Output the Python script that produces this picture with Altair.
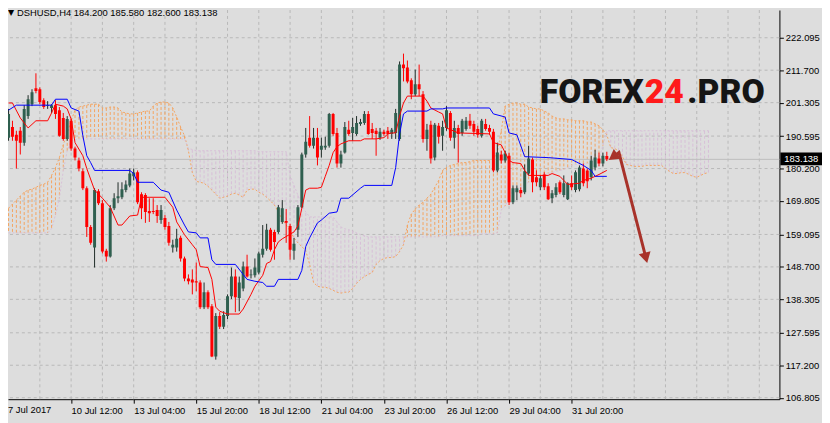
import altair as alt
import pandas as pd

# ---------------- data ----------------
opens = [190.1,193.5,191.0,192.3,188.5,197.0,200.8,205.9,205.6,202.1,
200.2,199.6,200.5,198.9,196.4,189.7,195.5,186.6,182.8,179.3,
173.9,161.5,154.9,172.9,169.1,153.9,152.0,167.5,170.7,171.0,
173.3,174.8,177.7,179.0,172.0,171.7,166.6,166.6,166.9,163.7,
164.4,161.8,154.9,154.9,158.0,151.4,145.0,144.7,144.1,143.7,
135.8,140.6,136.1,120.0,133.0,129.5,133.0,139.3,145.6,138.7,
141.8,148.8,146.0,146.0,146.9,152.6,154.5,160.6,159.9,159.9,
163.1,163.4,161.8,153.9,160.6,167.8,184.7,190.1,187.5,190.1,
186.2,186.9,187.5,197.7,191.6,181.8,185.3,192.6,191.6,191.3,
194.5,194.8,197.7,192.9,192.3,190.1,192.0,192.3,191.3,191.6,
189.7,213.5,212.6,208.5,204.0,207.2,204.0,189.7,194.2,183.7,
193.9,190.7,193.2,198.0,190.1,193.2,191.6,192.9,195.5,194.5,
192.9,190.7,194.5,193.2,192.0,179.6,184.7,182.8,184.3,169.4,
172.6,173.3,172.6,178.6,183.1,177.4,174.2,178.3,174.5,170.7,
171.7,175.8,171.7,170.4,175.5,173.3,173.6,180.2,179.6,177.4,
180.5,183.4,181.8,184.2]
highs = [199.3,195.5,192.3,193.5,200.5,203.7,205.6,210.7,206.2,202.7,
201.8,200.8,202.1,199.9,198.0,197.0,196.1,187.2,183.7,180.2,
174.5,162.1,173.9,173.6,170.1,154.5,168.5,172.3,175.8,175.8,
176.4,180.2,180.2,179.6,172.6,172.3,170.7,170.7,168.5,168.5,
165.3,163.1,157.4,160.9,158.7,152.0,146.3,147.9,150.1,144.4,
143.7,141.2,136.8,133.9,134.2,134.5,139.9,148.5,147.9,145.6,
150.4,152.6,147.9,151.4,153.6,162.1,162.5,161.2,160.6,168.5,
170.1,167.2,162.5,158.0,168.5,185.3,193.2,197.0,193.2,193.2,
190.1,190.4,198.0,198.0,193.2,185.9,195.1,195.5,196.4,197.0,
196.1,198.6,198.6,194.8,193.2,193.2,192.6,193.5,193.2,199.3,
214.5,217.0,214.8,209.1,211.9,213.5,205.0,194.5,195.5,194.8,
194.8,195.5,200.2,198.6,195.5,194.2,196.1,196.7,197.7,195.5,
193.9,196.1,196.1,194.2,192.9,188.5,185.9,185.9,185.3,174.8,
174.8,174.2,181.5,187.5,183.7,179.6,178.0,179.0,175.5,173.3,
175.5,176.4,178.0,175.8,178.0,179.6,181.2,181.8,180.2,184.3,
186.2,185.3,185.3,185.58]
lows = [189.1,189.1,180.2,184.7,187.5,196.1,200.2,204.3,200.8,199.3,
199.3,198.0,196.1,190.4,189.1,189.1,185.9,182.8,179.3,173.3,
158.3,155.8,148.5,168.5,153.0,150.4,151.7,166.9,169.1,170.4,
172.6,174.2,176.4,168.8,164.0,162.8,163.1,165.6,162.8,162.5,
160.6,155.5,153.3,153.6,150.4,144.1,143.1,139.9,140.9,135.2,
135.2,135.2,119.8,119.0,128.8,128.8,132.0,138.4,134.2,134.5,
140.9,145.3,145.0,145.3,146.3,151.7,153.9,153.6,151.0,159.3,
162.5,156.4,151.0,151.0,158.3,167.5,183.7,186.9,186.6,181.2,
183.7,186.2,186.9,190.7,180.5,180.5,185.0,190.7,189.1,190.7,
193.9,194.2,191.0,189.7,184.3,189.4,190.7,189.7,189.7,189.7,
189.1,208.1,207.5,202.4,203.4,203.4,188.5,185.9,181.8,182.8,
188.2,185.9,192.3,189.1,186.6,182.1,190.7,192.3,192.9,190.7,
190.1,190.1,192.3,191.0,179.0,179.0,181.8,182.1,168.5,168.8,
170.1,171.0,172.0,178.0,172.6,174.5,173.3,173.3,170.1,169.1,
171.0,172.0,171.0,170.1,173.3,172.6,172.9,174.5,173.9,176.4,
179.6,180.9,180.9,182.6]
closes = [197.7,190.4,189.1,188.5,199.3,202.4,204.6,205.0,201.5,199.9,
200.5,200.5,197.7,190.7,189.7,196.1,186.6,183.7,180.2,173.9,
161.5,156.4,173.3,169.1,153.6,152.0,167.5,170.7,171.3,173.6,
175.1,178.6,178.9,169.4,167.5,166.3,165.9,166.3,165.0,166.9,
161.5,156.4,155.8,157.7,151.4,145.0,144.1,143.7,143.7,135.8,
140.6,135.8,120.0,133.0,129.5,133.3,139.3,145.6,139.0,143.7,
148.8,145.6,146.3,148.5,153.0,154.5,160.6,154.2,156.7,167.8,
167.5,162.8,154.2,156.1,167.8,184.7,188.8,187.5,190.1,183.7,
187.5,187.5,197.7,191.3,181.8,184.7,193.5,191.3,193.5,194.8,
195.1,197.7,191.3,191.6,191.3,192.0,191.3,191.3,192.6,198.0,
213.5,212.3,208.1,204.0,207.2,205.6,189.7,192.6,183.4,194.2,
190.4,193.5,198.9,190.1,193.2,191.3,195.5,195.5,193.9,192.0,
191.0,195.5,192.9,192.0,179.6,185.3,182.8,185.0,169.4,173.9,
173.9,172.3,179.3,183.4,175.8,175.8,177.1,174.2,170.4,172.3,
174.2,172.6,175.5,175.5,174.2,179.0,180.5,175.5,176.1,182.8,
183.7,181.8,184.3,183.138]

# Tenkan-sen (red) vertices: bar index, price
tenkan_bar = [0,1,3,5,7,10,11,12,14,15,16,17,19,20,22,24,26,28,29,31,
33,34,40,42,43,45,47,48,49,51,52,53,54,56,59,60,62,63,65,66,
67,68,69,70,73,74,75,76,77,79,80,81,82,83,84,85,87,90,91,94,
96,97,98,99,100,101,102,106,107,108,110,111,112,115,123,124,126,127,128,129,
131,132,133,138,139,141,142,143,146,147,149,151,153]
tenkan_val = [201.2,201.2,196.4,193.2,195.5,195.5,198.0,200.8,200.2,199.3,
196.1,188.5,184.3,180.2,173.3,170.7,167.8,162.1,162.1,165.0,
165.3,171.0,171.0,167.8,163.1,159.0,155.8,154.2,148.8,148.5,
144.7,135.8,134.5,133.6,133.6,135.2,139.9,142.5,146.0,149.8,
150.4,154.2,156.7,157.7,159.9,161.8,167.5,173.3,173.9,173.9,
174.2,177.7,181.2,185.3,187.2,188.1,189.1,189.1,189.7,189.7,
190.1,191.3,191.6,191.6,197.0,201.2,203.4,203.4,201.8,199.6,
198.3,197.7,193.2,191.6,191.3,188.5,187.8,185.3,182.8,182.1,
181.8,179.6,178.0,178.0,178.6,177.7,176.4,175.1,175.5,176.4,
177.1,178.3,179.6]

# Kijun-sen (blue) vertices: bar index, price
kijun_bar = [0,2,11,12,15,16,18,19,20,21,22,31,32,33,37,39,41,43,45,46,
48,49,51,52,53,58,60,61,63,65,66,68,69,74,75,76,77,79,80,82,
84,85,87,90,91,98,99,100,101,102,107,108,111,112,123,124,127,128,130,132,
138,144,147,149,150,153]
kijun_val = [198.9,200.5,200.5,202.4,202.4,199.6,198.6,190.7,184.3,182.1,
179.6,179.6,178.6,175.8,175.8,173.3,172.6,166.9,162.1,159.9,
159.6,158.0,158.0,151.0,149.5,149.5,146.3,144.7,144.1,143.7,
142.5,142.5,144.7,144.7,147.6,155.2,158.0,162.8,163.7,165.9,
166.3,170.7,170.7,173.9,174.8,174.8,180.5,191.3,197.7,198.6,
198.6,199.3,199.3,199.6,199.6,197.7,196.7,191.6,191.0,184.0,
183.7,183.1,181.2,179.6,177.7,177.7]

# Senkou span A / B, one value per bar (cloud runs 26 bars past the last candle)
span_a = [167.5,168.8,170.1,171.4,172.6,173.3,173.6,174.2,174.8,175.2,
175.8,178.0,180.5,183.7,187.8,191.6,195.5,198.9,199.9,200.2,
200.5,200.8,200.8,200.8,199.6,199.6,199.9,199.9,199.6,198.3,
198.0,197.7,197.7,198.0,198.3,198.6,198.6,200.2,201.2,201.5,
201.5,201.2,199.6,196.7,193.5,190.7,185.9,178.9,176.1,175.8,
175.5,174.5,173.3,172.0,170.7,171.0,171.4,172.0,172.3,171.7,
171.0,173.3,173.6,173.6,172.6,172.0,171.0,169.8,168.5,166.3,
163.7,162.1,160.2,158.0,156.4,155.2,153.9,149.5,143.7,142.5,
142.2,142.2,141.8,141.2,140.6,140.3,140.6,140.6,141.8,143.4,
144.7,145.6,146.3,146.9,149.5,150.7,151.4,151.7,151.7,152.0,
153.6,155.8,162.1,165.6,167.2,168.5,169.4,170.7,172.0,174.2,
176.4,179.6,180.5,181.2,181.5,181.8,182.1,182.1,182.4,182.8,
182.8,182.8,182.8,182.8,183.4,185.3,192.3,200.2,200.8,201.2,
201.2,200.8,200.8,199.9,199.6,199.3,199.3,198.6,198.0,197.0,
196.4,196.1,196.1,195.8,195.8,195.5,195.5,195.5,195.1,195.1,
194.5,193.9,192.6,191.0,186.9,186.6,185.9,184.0,181.5,181.2,
180.9,180.9,180.9,181.2,181.2,181.2,181.2,181.2,180.2,179.3,
178.6,178.6,178.9,178.9,178.3,177.7,177.4,178.0,178.6,178.9]
span_b = [159.6,159.6,159.6,159.6,159.6,159.6,159.6,159.6,159.6,159.6,
159.6,160.9,165.3,170.7,179.6,185.9,189.1,189.4,189.7,189.7,
189.7,189.7,189.7,189.7,189.7,189.7,189.7,189.7,189.7,189.7,
189.7,189.7,189.7,189.7,189.7,189.7,189.7,189.7,189.7,189.7,
189.7,189.7,189.7,189.7,189.7,189.7,186.6,186.3,185.9,185.9,
185.9,185.9,185.9,185.9,185.9,185.9,185.9,185.9,185.9,185.9,
185.9,185.9,185.9,185.9,185.6,185.6,185.6,185.6,185.6,185.6,
185.6,185.6,178.0,174.8,171.7,168.5,166.3,164.7,164.7,164.7,
164.7,164.7,164.7,164.7,163.1,161.5,160.9,160.6,160.2,159.6,
159.0,158.7,158.3,158.3,158.3,158.3,158.3,158.3,158.3,158.3,
158.3,158.3,158.3,158.3,158.3,158.3,158.3,158.3,158.3,158.3,
158.3,158.7,158.7,158.7,158.7,158.7,158.7,158.7,158.7,158.7,
158.7,159.3,159.3,159.3,159.3,159.6,166.9,168.2,170.7,173.3,
173.9,174.5,175.2,175.8,176.1,176.4,177.4,178.0,178.6,178.9,
179.3,179.6,179.9,180.5,181.2,181.5,181.5,181.8,181.8,182.1,
182.8,183.4,187.5,192.3,192.3,192.3,192.3,192.3,192.3,192.3,
192.3,192.3,192.3,192.3,192.3,192.3,192.3,192.3,192.3,192.3,
192.3,192.3,192.3,192.3,192.3,192.3,192.3,192.3,192.3,192.3]

y_ticks = [106.805,117.200,127.595,138.305,148.700,159.095,169.805,180.200,190.595,201.305,211.700,222.095]
x_label_bars = [16,32,48,64,80,96,112,128,144]
x_labels = ["10 Jul 12:00","13 Jul 04:00","15 Jul 20:00","18 Jul 12:00","21 Jul 04:00",
            "23 Jul 20:00","26 Jul 12:00","29 Jul 04:00","31 Jul 20:00"]
first_label = "7 Jul 2017"
last_price = 183.138
header = "DSHUSD,H4  184.200 185.580 182.600 183.138"

# forecast arrow (bar index, price)
arrow_bar = [154.6,156.1,163.0]
arrow_price = [183.9,185.3,151.6]
head_bar = [154.6,163.0]
head_price = [183.9,151.6]
head_angle = [234,166]

# ---------------- styling ----------------
W, H = 779, 393
BG = "#DDDDDD"
GRID = "#B8B8B8"
FONT = "Liberation Sans"
xs = alt.Scale(domain=[1.125, 195.875], nice=False, zero=False)
ys = alt.Scale(domain=[106.33, 230.97], nice=False, zero=False)

label_expr = " : ".join(f"datum.value == {b} ? '{t}'" for b, t in zip(x_label_bars, x_labels)) + " : ''"
x_axis = alt.Axis(orient="bottom", values=x_label_bars, labelExpr=label_expr, title=None, grid=False,
                  tickSize=4, tickColor="black", domainColor="black", labelColor="black",
                  labelFont=FONT, labelFontSize=9.5, labelAlign="left", labelBaseline="top",
                  labelPadding=2, labelOverlap=False, labelFlush=False)
y_axis = alt.Axis(orient="right", values=y_ticks, format=".3f", title=None, grid=False,
                  tickSize=4, tickColor="black", domainColor="black", labelColor="black",
                  labelFont=FONT, labelFontSize=9.5, labelPadding=2, labelOverlap=False,
                  labelFlush=False, labelBaseline="middle")


def X(f):
    return alt.X(f, scale=xs, axis=x_axis)


def Y(f):
    return alt.Y(f, scale=ys, axis=y_axis)


candles = pd.DataFrame({"bar": list(range(len(opens))), "open": opens, "high": highs,
                        "low": lows, "close": closes})
up = [c >= o for o, c in zip(opens, closes)]
candles["lo"] = [min(o, c) for o, c in zip(opens, closes)]
candles["hi"] = [max(o, c) for o, c in zip(opens, closes)]
candles["wcol"] = ["#1E2B26" if u else "#FF0000" for u in up]
candles["bcol"] = ["#2F5F4F" if u else "#FF0000" for u in up]

cloud = pd.DataFrame({"bar": list(range(len(span_a))), "a": span_a, "b": span_b})
cloud["col"] = ["#F4A460" if a >= b else "#D8BFD8" for a, b in zip(span_a, span_b)]

tenkan = pd.DataFrame({"bar": tenkan_bar, "v": tenkan_val})
kijun = pd.DataFrame({"bar": kijun_bar, "v": kijun_val})

vgrid = alt.Chart(pd.DataFrame({"bar": list(range(8, 196, 8))})).mark_rule(
    color=GRID, strokeDash=[3, 3], strokeWidth=1).encode(x=X("bar:Q"))
hgrid = alt.Chart(pd.DataFrame({"p": y_ticks})).mark_rule(
    color=GRID, strokeDash=[3, 3], strokeWidth=1).encode(y=Y("p:Q"))

hatch = alt.Chart(cloud).mark_rule(strokeDash=[3, 2], strokeWidth=1, clip=True).encode(
    x=X("bar:Q"), y=Y("a:Q"), y2="b:Q", color=alt.Color("col:N", scale=None))
line_a = alt.Chart(cloud).mark_line(color="#F4A460", strokeDash=[2, 2], strokeWidth=1, clip=True).encode(
    x=X("bar:Q"), y=Y("a:Q"))
line_b = alt.Chart(cloud).mark_line(color="#D8BFD8", strokeDash=[2, 2], strokeWidth=1, clip=True).encode(
    x=X("bar:Q"), y=Y("b:Q"))

price_df = pd.DataFrame({"p": [last_price], "t": [f"{last_price:.3f}"]})
price_line = alt.Chart(price_df).mark_rule(color="#BDBDBD", strokeWidth=1).encode(
    y=Y("p:Q"), x=alt.value(0), x2=alt.value(W))

wick = alt.Chart(candles).mark_rule(strokeWidth=1, clip=True).encode(
    x=X("bar:Q"), y=Y("low:Q"), y2="high:Q", color=alt.Color("wcol:N", scale=None))
body = alt.Chart(candles).mark_bar(width=3, clip=True).encode(
    x=X("bar:Q"), y=Y("lo:Q"), y2="hi:Q", color=alt.Color("bcol:N", scale=None))

tenkan_l = alt.Chart(tenkan).mark_line(color="#FF0000", strokeWidth=1, clip=True).encode(
    x=X("bar:Q"), y=Y("v:Q"))
kijun_l = alt.Chart(kijun).mark_line(color="#0000FF", strokeWidth=1, clip=True).encode(
    x=X("bar:Q"), y=Y("v:Q"))

ARROW = "#A8322A"
arrow_df = pd.DataFrame({"bar": arrow_bar, "p": arrow_price, "k": [0, 1, 2]})
arrow = alt.Chart(arrow_df).mark_line(color=ARROW, strokeWidth=3).encode(
    x=X("bar:Q"), y=Y("p:Q"), order="k:Q")
heads = alt.Chart(pd.DataFrame({"bar": head_bar, "p": head_price, "ang": head_angle})).mark_point(
    shape="triangle-up", filled=True, size=150, color=ARROW, opacity=1).encode(
    x=X("bar:Q"), y=Y("p:Q"), angle=alt.Angle("ang:Q", scale=None))

price_box = alt.Chart(price_df).mark_rect(color="black", yOffset=-7, y2Offset=6).encode(
    y=Y("p:Q"), y2="p:Q", x=alt.value(780), x2=alt.value(822))
price_txt = alt.Chart(price_df).mark_text(color="white", font=FONT, fontSize=9.5, align="left",
                                           baseline="middle").encode(
    y=Y("p:Q"), x=alt.value(784), text="t:N")


def label(txt, x, y, **kw):
    return alt.Chart(pd.DataFrame({"t": [txt]})).mark_text(**kw).encode(
        x=alt.value(x), y=alt.value(y), text="t:N")


first_lab = label(first_label, 0, H + 6, font=FONT, fontSize=9.5, align="left", baseline="top", color="black")
tri = label("▼", 0, 3, font="DejaVu Sans", fontSize=8, align="left", baseline="middle", color="black")
head_txt = label(header, 9, 3, font=FONT, fontSize=9.5, align="left", baseline="middle", color="black")
wm1 = label("FOREX", 537, 94, font="Roboto", fontSize=34, fontWeight=900, align="left",
            baseline="alphabetic", color="#151515")
wm2 = label("24", 643, 94, font="Roboto", fontSize=34, fontWeight=900, align="left",
            baseline="alphabetic", color="#FF1A1A")
wm3 = label(".PRO", 686, 94, font="Roboto", fontSize=34, fontWeight=900, align="left",
            baseline="alphabetic", color="#151515")

chart = alt.layer(
    vgrid, hgrid, hatch, line_a, line_b, price_line, wick, body, tenkan_l, kijun_l,
    arrow, heads, price_box, price_txt, first_lab, tri, head_txt, wm1, wm2, wm3
).properties(
    width=W, height=H,
    autosize=alt.AutoSizeParams(type="none"),
    padding={"left": 0, "top": 0, "right": 43, "bottom": 22},
    background=BG,
).configure_view(stroke=None)

chart.save("out.html", embed_options={"renderer": "svg", "actions": False})
